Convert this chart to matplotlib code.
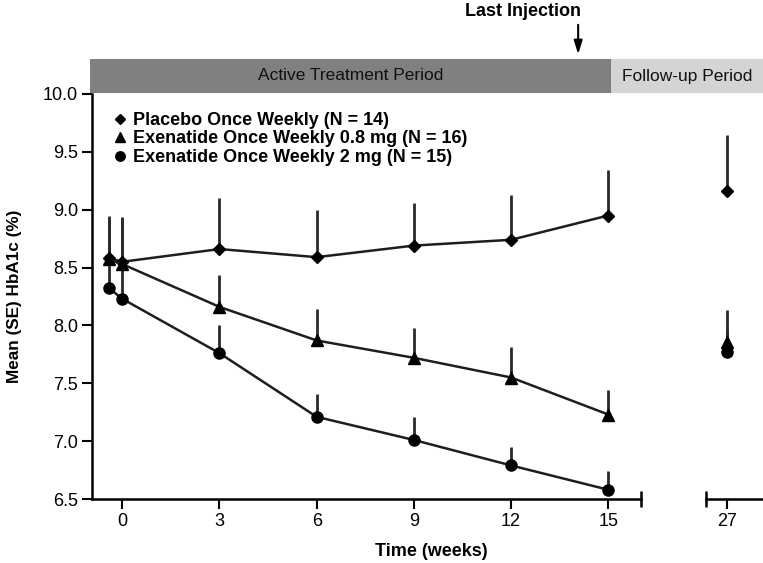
import matplotlib
matplotlib.use("Agg")
import matplotlib.pyplot as plt
from matplotlib.lines import Line2D
from matplotlib.patches import Rectangle


# ---------------- data ----------------
weeks = [-0.4, 0, 3, 6, 9, 12, 15]
xticks_main = [0, 3, 6, 9, 12, 15]
followup_week = 27
last_injection_week = 14.07

placebo_mean = [8.58, 8.55, 8.66, 8.59, 8.69, 8.74, 8.95]
placebo_upper = [8.95, 8.93, 9.10, 9.00, 9.06, 9.13, 9.34]
placebo_fu_mean = 9.16
placebo_fu_upper = 9.65

ex08_mean = [8.57, 8.53, 8.16, 7.87, 7.72, 7.55, 7.23]
ex08_upper = [8.92, 8.94, 8.44, 8.14, 7.98, 7.81, 7.44]
ex08_fu_mean = 7.86
ex08_fu_upper = 8.13

ex2_mean = [8.32, 8.23, 7.76, 7.21, 7.01, 6.79, 6.58]
ex2_upper = [8.58, 8.50, 8.00, 7.41, 7.21, 6.95, 6.74]
ex2_fu_mean = 7.77
ex2_fu_upper = 7.96

labels = ["Placebo Once Weekly (N = 14)",
          "Exenatide Once Weekly 0.8 mg (N = 16)",
          "Exenatide Once Weekly 2 mg (N = 15)"]
yticks = [6.5, 7.0, 7.5, 8.0, 8.5, 9.0, 9.5, 10.0]


plt.rcParams["font.family"] = ["Liberation Sans", "DejaVu Sans"]

W, H = 763, 563
fig = plt.figure(figsize=(W / 100, H / 100), dpi=100)


def fx(px):
    return px / W


def fy(py):
    # py measured from top
    return 1 - py / H


# pixel layout
X0, X_END1, X_START2 = 92, 641, 705.7
Y_TOP, Y_BOT = 94, 499
PX_PER_WEEK = 32.4
X_ZERO = 122.3

xlim1 = ((X0 - X_ZERO) / PX_PER_WEEK, (X_END1 - X_ZERO) / PX_PER_WEEK)
xlim2 = (followup_week - (727.3 - X_START2) / PX_PER_WEEK,
         followup_week + (W - 727.3) / PX_PER_WEEK)

ax1 = fig.add_axes([fx(X0), fy(Y_BOT), fx(X_END1 - X0), (Y_BOT - Y_TOP) / H])
ax2 = fig.add_axes([fx(X_START2), fy(Y_BOT), fx(W - X_START2), (Y_BOT - Y_TOP) / H])

series = [
    (placebo_mean, placebo_upper, placebo_fu_mean, placebo_fu_upper, "D", 6.3),
    (ex08_mean, ex08_upper, ex08_fu_mean, ex08_fu_upper, "^", 8.3),
    (ex2_mean, ex2_upper, ex2_fu_mean, ex2_fu_upper, "o", 8.0),
]

LINE_C = "#1e1e1e"
ERR_C = "#2a2a2a"

for mean, upper, fu_mean, fu_upper, mk, ms in series:
    up = [u - m for u, m in zip(upper, mean)]
    lo = [0] * len(mean)
    ax1.errorbar(weeks, mean, yerr=[lo, up], fmt="none", ecolor=ERR_C,
                 elinewidth=2.0, capsize=0, zorder=2)
    ax1.plot(weeks, mean, color=LINE_C, lw=1.8, marker=mk, ms=ms,
             mfc="black", mec="black", zorder=3)
    ax2.errorbar([followup_week], [fu_mean], yerr=[[0], [fu_upper - fu_mean]],
                 fmt="none", ecolor=ERR_C, elinewidth=2.0, capsize=0, zorder=2)
    ax2.plot([followup_week], [fu_mean], color=LINE_C, marker=mk, ms=ms,
             mfc="black", mec="black", ls="none", zorder=3)

for ax, xl in ((ax1, xlim1), (ax2, xlim2)):
    ax.set_xlim(*xl)
    ax.set_ylim(6.5, 10.0)
    ax.spines["top"].set_visible(False)
    ax.spines["right"].set_visible(False)
    ax.spines["bottom"].set_linewidth(1.8)
    ax.spines["left"].set_linewidth(1.8)
    ax.tick_params(axis="both", direction="out", length=7, width=1.5,
                   labelsize=13, pad=3, colors="black")
    ax.set_facecolor("none")

ax1.set_xticks(xticks_main)
ax1.set_yticks(yticks)
ax1.set_yticklabels([f"{v:.1f}" for v in yticks])
ax2.set_xticks([followup_week])
ax2.spines["left"].set_visible(False)
ax2.set_yticks([])

# axis break end caps
ax1.plot([xlim1[1]], [6.5], marker="|", ms=11, mew=1.8, color="black", clip_on=False)
ax2.plot([xlim2[0]], [6.5], marker="|", ms=11, mew=1.8, color="black", clip_on=False)

ax1.set_ylabel("Mean (SE) HbA1c (%)", fontsize=12.3, fontweight="bold")
ax1.yaxis.set_label_coords((22 - X0) / (X_END1 - X0), 0.5)
fig.text(fx(431), fy(551), "Time (weeks)", ha="center", va="center",
         fontsize=13, fontweight="bold")

# legend
handles = [Line2D([], [], ls="none", marker=mk, ms=ms * 0.85, color="black")
           for *_, mk, ms in series]
leg = fig.legend(handles, labels, loc="upper left",
                 bbox_to_anchor=(fx(114), fy(112)), frameon=False,
                 handlelength=0.7, handletextpad=0.35, labelspacing=0.08,
                 borderpad=0, borderaxespad=0,
                 prop={"weight": "bold", "size": 13})

# period header bar
bar = fig.add_axes([fx(90), fy(93), fx(W - 90), (93 - 59) / H])
bar.set_xlim(0, 1)
bar.set_ylim(0, 1)
bar.axis("off")
split = (611 - 90) / (W - 90)
bar.add_patch(Rectangle((0, 0), split, 1, color="#808080", lw=0))
bar.add_patch(Rectangle((split, 0), 1 - split, 1, color="#d4d4d4", lw=0))
bar.text(split / 2, 0.5, "Active Treatment Period", ha="center", va="center",
         fontsize=12.5, color="#111111")
bar.text(split + (1 - split) / 2, 0.5, "Follow-up Period", ha="center",
         va="center", fontsize=12.5, color="#111111")

# last injection arrow
ax1.annotate("", xy=(last_injection_week, H - 57), xycoords=("data", "figure pixels"),
             xytext=(last_injection_week, H - 22), textcoords=("data", "figure pixels"),
             arrowprops=dict(arrowstyle="-|>,head_width=0.25,head_length=0.8",
                             color="black", lw=1.5), annotation_clip=False)
ax1.annotate("Last Injection", xy=(last_injection_week, H - 12),
             xycoords=("data", "figure pixels"), xytext=(3, 0),
             textcoords="offset pixels", ha="right", va="center",
             fontsize=13, fontweight="bold", annotation_clip=False)

fig.savefig("out.png", dpi=100)
